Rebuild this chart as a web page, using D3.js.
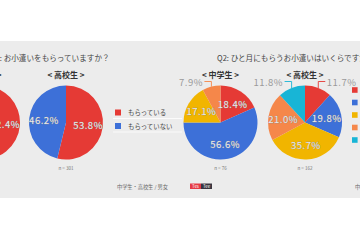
<!DOCTYPE html>
<html><head><meta charset="utf-8">
<script src="https://cdn.jsdelivr.net/npm/d3@7"></script>
<style>
html,body{margin:0;padding:0;background:#fff;overflow:hidden;}
svg{display:block;}
text{font-family:"Noto Sans CJK JP","Noto Sans",sans-serif;}
</style></head>
<body>
<svg id="c" width="360" height="240"></svg>
<script>
// ---- data ----
const q1Title = "Q1: お小遣いをもらっていますか？";
const q2Title = "Q2: ひと月にもらうお小遣いはいくらですか？";
const q1Categories = ["もらっている", "もらっていない"];
const groups = ["中学生", "高校生"];
const q1Junior = [52.4, 47.6];
const q1High = [53.8, 46.2];
const q1N = [145, 301];
const q2Junior = [18.4, 56.6, 17.1, 7.9, 0];
const q2High = [11.7, 19.8, 35.7, 21.0, 11.8];
const q2N = [76, 162];
const footerText = "中学生・高校生 / 男女";
const logoParts = ["Tes", "Tee"];

// ---- style ----
const colors = ["#e53a35", "#3d70d8", "#f1b500", "#f5874a", "#18b5d6"];
const svg = d3.select("#c");

svg.append("rect").attr("x", 0).attr("y", 41).attr("width", 360).attr("height", 157).attr("fill", "#ececec");

svg.append("text").attr("x", -10).attr("y", 57).attr("dominant-baseline", "central")
  .attr("font-size", 7.6).attr("fill", "#444").text(q1Title);
svg.append("text").attr("x", 217).attr("y", 57).attr("dominant-baseline", "central")
  .attr("font-size", 7.6).attr("fill", "#444").text(q2Title);

const R = 37;
const pie = d3.pie().sort(null).value(d => d);
const arc = d3.arc().innerRadius(0).outerRadius(R);
const labelArc = d3.arc().innerRadius(R * 0.6).outerRadius(R * 0.6);
const fmt = v => d3.format(".1f")(v) + "%";

function drawPie(cx, cy, values, title, n) {
  const g = svg.append("g").attr("transform", `translate(${cx},${cy})`);
  const arcs = pie(values);
  g.selectAll("path.s").data(arcs.filter(a => a.data > 0)).join("path")
    .attr("class", "s").attr("d", arc).attr("fill", d => colors[d.index]);
  arcs.filter(a => a.data > 0).forEach(a => {
    const frac = a.data / 100;
    const styleText = t => t.attr("font-family", "Roboto, 'DejaVu Sans', sans-serif")
      .attr("font-size", 9.5).attr("letter-spacing", 0.5).attr("dominant-baseline", "central");
    if (frac >= 0.15) {
      const [x, y] = labelArc.centroid(a);
      styleText(g.append("text").attr("x", x).attr("y", y).attr("text-anchor", "middle").text(fmt(a.data)))
        .attr("fill", "#e9e9e9").attr("stroke", "#8a8a8a").attr("stroke-width", 0.4).attr("paint-order", "stroke");
    } else {
      const mid = (a.startAngle + a.endAngle) / 2;
      const ex = R * Math.sin(mid), ey = -R * Math.cos(mid);
      const ly = -R - 4;
      const dir = ex >= 0 ? 1 : -1;
      const lx = ex + dir * 7;
      g.append("path").attr("d", `M${ex},${ey}L${ex},${ly}L${lx},${ly}`)
        .attr("fill", "none").attr("stroke", colors[a.index]).attr("stroke-width", 0.9);
      styleText(g.append("text").attr("x", lx + dir * 1.5).attr("y", ly + 0.5)
        .attr("text-anchor", dir > 0 ? "start" : "end").text(fmt(a.data)))
        .attr("fill", "#9a9a9a");
    }
  });
  svg.append("text").attr("x", cx).attr("y", 74).attr("text-anchor", "middle")
    .attr("dominant-baseline", "central").attr("font-size", 8).attr("font-weight", "bold")
    .attr("fill", "#333").text(`< ${title} >`);
  svg.append("text").attr("x", cx).attr("y", 168).attr("text-anchor", "middle")
    .attr("dominant-baseline", "central").attr("font-size", 4.6).attr("fill", "#777")
    .text(`n = ${n}`);
}

drawPie(-17, 122.5, q1Junior, groups[0], q1N[0]);
drawPie(66, 122.5, q1High, groups[1], q1N[1]);
drawPie(220.5, 122.5, q2Junior, groups[0], q2N[0]);
drawPie(305, 122.5, q2High, groups[1], q2N[1]);

// Q1 legend
q1Categories.forEach((c, i) => {
  const y = 112.5 + i * 13.5;
  svg.append("rect").attr("x", 115).attr("y", y - 3).attr("width", 6).attr("height", 6).attr("fill", colors[i]);
  svg.append("text").attr("x", 128).attr("y", y).attr("dominant-baseline", "central")
    .attr("font-size", 6.4).attr("fill", "#444").text(c);
  svg.append("line").attr("x1", 113).attr("x2", 182).attr("y1", y + 6).attr("y2", y + 6)
    .attr("stroke", "#fff").attr("stroke-width", 0.8);
});
// Q2 legend swatches (labels lie outside the view)
colors.forEach((c, i) => {
  svg.append("rect").attr("x", 352).attr("y", 90 + i * 12.5 - 2.8).attr("width", 5.6).attr("height", 5.6).attr("fill", c);
});

// footers
svg.append("text").attr("x", 168).attr("y", 186).attr("text-anchor", "end").attr("dominant-baseline", "central")
  .attr("font-size", 5.2).attr("fill", "#666").text(footerText);
svg.append("text").attr("x", 355).attr("y", 186).attr("dominant-baseline", "central")
  .attr("font-size", 5.2).attr("fill", "#666").text(footerText);

// logo
const logoG = svg.append("g");
logoParts.forEach((p, i) => {
  const x = 190 + i * 11;
  logoG.append("rect").attr("x", x).attr("y", 183.5).attr("width", 11).attr("height", 5.5)
    .attr("fill", i === 0 ? "#e53a45" : "#3a3640");
  logoG.append("text").attr("x", x + 5.5).attr("y", 186.3).attr("text-anchor", "middle")
    .attr("dominant-baseline", "central").attr("font-size", 4.4).attr("font-family", "Roboto, sans-serif")
    .attr("fill", "#fff").text(p);
});
</script>
</body></html>
